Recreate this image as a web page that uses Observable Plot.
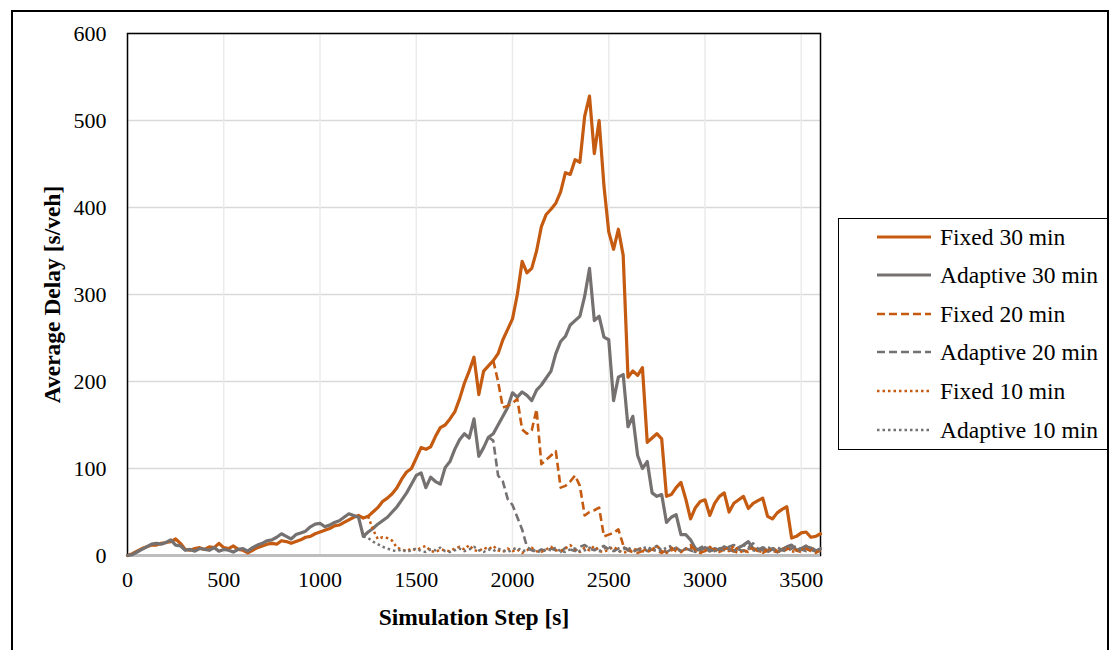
<!DOCTYPE html>
<html><head><meta charset="utf-8">
<script src="https://cdn.jsdelivr.net/npm/d3@7"></script>
<script src="https://cdn.jsdelivr.net/npm/@observablehq/plot@0.6"></script>
<style>
html,body{margin:0;padding:0;background:#fff;overflow:hidden;width:1110px;height:650px;}
#frame{position:absolute;left:11px;top:10px;width:1098px;height:700px;border:2px solid #000;box-sizing:border-box;}
#chart{position:absolute;left:0;top:0;}
#legend{position:absolute;left:838px;top:218px;width:270px;height:232px;border:1.5px solid #000;box-sizing:border-box;background:#fff;font-family:"Liberation Serif",serif;font-size:23.5px;color:#000;}
.row{position:absolute;left:0;height:28px;display:flex;align-items:center;white-space:nowrap;}
.row svg{margin-left:38px;margin-right:9px;}
</style>
</head><body>
<div id="frame"></div>
<div id="chart"></div>
<div id="legend"></div>
<script>
const ORANGE = "#C55A11";
const GRAY = "#767171";
const STEP = 25;
const xTicks = [0, 500, 1000, 1500, 2000, 2500, 3000, 3500];
const yTicks = [0, 100, 200, 300, 400, 500, 600];
const seriesNames = ["Fixed 30 min", "Adaptive 30 min", "Fixed 20 min", "Adaptive 20 min", "Fixed 10 min", "Adaptive 10 min"];

// Fixed 30 min, from step 0, every 25 s
const fixed30Start = 0;
const fixed30 = [
 0,2,5,8,10,12,12,14,15,16,19,14,7,6,8,9,7,10,9,14,9,8,11,7,6,3,6,9,11,13,
 14,13,17,16,14,16,18,21,22,25,27,29,31,34,35,38,41,44,46,43,45,50,55,62,66,71,78,88,96,100,
 112,124,122,125,137,147,150,157,165,180,198,212,228,185,212,218,224,232,248,260,272,300,338,325,330,350,378,392,398,405,
 418,440,438,455,452,505,528,462,500,425,372,352,375,345,205,212,207,216,130,135,140,134,68,70,78,84,65,42,55,62,
 64,46,60,68,72,50,60,64,68,54,60,63,66,45,42,49,53,56,20,22,26,27,21,22,25
];
// Adaptive 30 min, from step 0
const adaptive30Start = 0;
const adaptive30 = [
 0,1,4,7,10,13,14,13,15,18,12,11,6,7,5,8,7,6,9,5,7,6,4,7,8,5,9,12,14,17,
 18,21,25,22,19,24,26,28,33,36,37,33,35,38,40,44,48,46,44,22,27,31,36,40,44,50,56,64,72,82,
 92,95,78,90,85,82,101,108,122,133,140,135,157,114,124,136,140,150,160,170,187,182,188,184,178,190,196,204,212,232,
 246,252,265,270,275,298,330,270,275,251,248,178,205,208,148,160,115,100,108,72,68,70,38,44,47,24,24,18,8,6,
 9,5,8,6,10,7,5,9,12,16,8,6,9,5,8,4,7,10,12,6,8,11,7,5,8
];
// Fixed 20 min, from step 1900 (identical to Fixed 30 min before)
const fixed20Start = 1900;
const fixed20 = [
 224,200,170,172,175,180,145,140,144,168,105,110,115,120,78,80,85,92,80,46,50,52,55,22,24,26,30,12,6,4,
 3,5,4,7,5,3,6,9,5,4,8,12,6,3,5,9,6,4,7,10,5,3,6,4,8,5,3,6,9,5,
 4,7,10,6,4,8,5,3,6
];
// Adaptive 20 min, from step 1875 (identical to Adaptive 30 min before)
const adaptive20Start = 1875;
const adaptive20 = [
 136,132,92,85,65,58,44,30,10,6,4,7,5,8,6,4,9,7,5,10,12,8,6,9,11,7,5,8,10,6,
 4,7,9,5,8,11,6,4,7,9,5,8,6,4,9,11,7,5,8,6,10,12,7,5,9,14,8,6,4,7,
 10,6,5,8,11,7,5,9,6,4
];
// Fixed 10 min, from step 1250
const fixed10Start = 1250;
const fixed10 = [
 45,30,19,21,20,17,9,7,5,8,6,9,11,5,4,7,6,5,8,10,7,12,6,5,9,7,11,6,4,8,
 5,7,3,6,9,5,4,7,10,6,5,8,12,7,4,9,6,11,5,4,7,10,6,3,5,8,6,9,4,7,
 11,5,3,6,8,4,7,9,5,3,6,10,7,4,8,5,11,6,3,7,9,5,4,8,6,3,7,10,5,4,
 8,6,9,5,4
];
// Adaptive 10 min, from step 1225
const adaptive10Start = 1225;
const adaptive10 = [
 22,20,16,13,10,8,6,5,7,4,6,8,5,4,7,6,9,5,4,6,8,5,7,10,6,4,7,5,8,6,
 4,7,9,5,6,8,4,5,7,6,9,5,4,7,8,5,6,9,7,5,8,10,6,4,7,9,6,5,8,10,
 7,5,6,9,11,7,5,8,6,4,7,9,6,5,8,10,7,5,9,12,8,6,5,8,10,7,5,6,9,11,
 7,5,8,10,6,7
];

const series = [
  {name: seriesNames[0], start: fixed30Start, values: fixed30, color: ORANGE, width: 3.2, dash: null},
  {name: seriesNames[1], start: adaptive30Start, values: adaptive30, color: GRAY, width: 3.2, dash: null},
  {name: seriesNames[2], start: fixed20Start, values: fixed20, color: ORANGE, width: 2.6, dash: "8,4"},
  {name: seriesNames[3], start: adaptive20Start, values: adaptive20, color: GRAY, width: 2.6, dash: "8,4"},
  {name: seriesNames[4], start: fixed10Start, values: fixed10, color: ORANGE, width: 2.5, dash: "2.5,3"},
  {name: seriesNames[5], start: adaptive10Start, values: adaptive10, color: GRAY, width: 2.5, dash: "2.5,3"}
];

function rows(s) {
  return s.values.map((v, i) => ({step: s.start + i * STEP, delay: v}));
}

const lineMarks = series.map(s => Plot.line(rows(s), {
  x: "step", y: "delay", stroke: s.color, strokeWidth: s.width,
  strokeDasharray: s.dash || undefined, strokeLinejoin: "round", strokeLinecap: s.dash ? "butt" : "round"
}));

const chart = Plot.plot({
  width: 830, height: 650,
  marginLeft: 127, marginRight: 10, marginTop: 33, marginBottom: 95,
  style: {fontFamily: "'Liberation Serif', serif", fontSize: "22px", color: "#000", background: "transparent", overflow: "visible"},
  x: {domain: [0, 3600]},
  y: {domain: [0, 600]},
  marks: [
    Plot.gridY(yTicks, {stroke: "#d9d9d9", strokeOpacity: 1, strokeWidth: 1.5}),
    Plot.gridX(xTicks, {stroke: "#ebebeb", strokeOpacity: 1, strokeWidth: 1.5}),
    Plot.frame({stroke: "#000", strokeWidth: 1.5}),
    Plot.ruleY([0], {stroke: "#bfbfbf", strokeWidth: 2}),
    Plot.axisY(yTicks, {tickSize: 0, tickPadding: 21, label: null, fontSize: 22, tickFormat: d3.format("d")}),
    Plot.axisX(xTicks, {tickSize: 0, tickPadding: 16, label: null, fontSize: 22, tickFormat: d3.format("d")}),
    ...lineMarks,
    Plot.text(["Simulation Step [s]"], {frameAnchor: "bottom", dy: 62, lineAnchor: "middle", fontWeight: "bold", fontSize: 23.5}),
    Plot.text(["Average Delay [s/veh]"], {frameAnchor: "left", dx: -75, rotate: -90, lineAnchor: "middle", textAnchor: "middle", fontWeight: "bold", fontSize: 23.5})
  ]
});
document.getElementById("chart").appendChild(chart);

// Legend
const legend = document.getElementById("legend");
const rowCenters = [18, 56, 95, 133, 172, 211];
series.forEach((s, i) => {
  const row = document.createElement("div");
  row.className = "row";
  row.style.top = (rowCenters[i] - 14) + "px";
  const svg = d3.create("svg").attr("width", 54).attr("height", 10);
  svg.append("line").attr("x1", 0).attr("x2", 54).attr("y1", 5).attr("y2", 5)
    .attr("stroke", s.color).attr("stroke-width", s.width)
    .attr("stroke-dasharray", s.dash);
  row.appendChild(svg.node());
  const t = document.createElement("span");
  t.textContent = s.name;
  row.appendChild(t);
  legend.appendChild(row);
});
</script>
</body></html>
